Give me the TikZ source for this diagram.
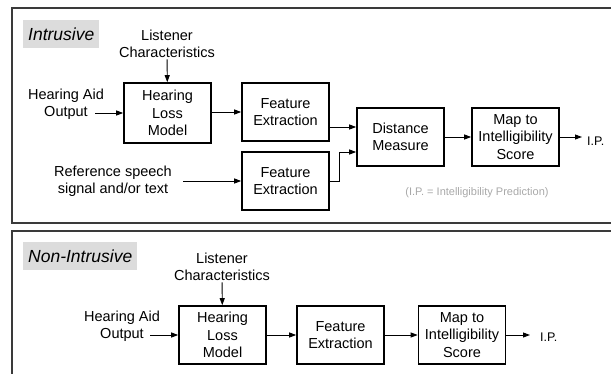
\documentclass[tikz,border=0pt]{standalone}
\usepackage{fontspec}
\setmainfont{Liberation Sans}
\usepackage{xcolor}
\usepackage{tikz}
\usetikzlibrary{arrows.meta,positioning,calc}
\definecolor{IPFrame}{HTML}{3A3A3A}
\definecolor{IPTagGray}{HTML}{DCDCDC}
\definecolor{IPNoteGray}{HTML}{A8A8A8}
\tikzset{
  ipbox/.style={draw=black,line width=1.6pt,fill=white,align=center,
    minimum width=87pt,minimum height=58pt,inner sep=1pt,
    font=\fontsize{14.5}{17.5}\selectfont},
  iptext/.style={align=center,inner sep=1pt,font=\fontsize{14.5}{17.5}\selectfont},
  ipout/.style={anchor=west,inner ysep=1pt,font=\fontsize{12.5}{15}\selectfont},
  iptag/.style={fill=IPTagGray,anchor=west,inner xsep=5pt,minimum height=28pt,
    font=\fontsize{17.5}{20}\selectfont\itshape},
  ipframe/.style={draw=IPFrame,line width=1.3pt},
  iparrow/.style={-{Triangle[length=7pt,width=5pt]},line width=0.9pt,black},
  ipnote/.style={font=\fontsize{11}{13}\selectfont,text=IPNoteGray}
}

\begin{document}
\begin{tikzpicture}[x=1pt,y=-1pt]
  \path[use as bounding box] (0,0) rectangle (611,373);
  \clip (0,0) rectangle (611,373);

  % panel frames
  \draw[ipframe] (12,8) rectangle (625,223);
  \draw[ipframe] (12,231) rectangle (625,390);

  % --- intrusive ---
  \node[iptag] (tagA) at (23,34) {Intrusive};

  \node[iptext] (lcA) at (167,44) {Listener\\Characteristics};
  \node[iptext] (haoA) at (66,104) {Hearing Aid\\Output};
  \coordinate (inA) at (95,113);
  \node[iptext] (refA) at (113,181) {Reference speech\\signal and/or text};
  \coordinate (inB) at (183,181);

  \node[ipbox,minimum height=60pt] (hlmA) at (167.5,113) {Hearing\\Loss\\Model};
  \node[ipbox] (feA) at (285.5,112) {Feature\\Extraction};
  \node[ipbox] (feB) at (285.5,181) {Feature\\Extraction};
  \node[ipbox] (dm) at (400.5,137) {Distance\\Measure};
  \node[ipbox] (mapA) at (515.5,137) {Map to\\Intelligibility\\Score};
  \node[ipout,inner xsep=5pt] (ipA) at (582,141) {I.P.};

  \node[ipnote] (note) at (477,193) {(I.P. = Intelligibility Prediction)};

  \draw[iparrow] (lcA) -- (hlmA);
  \draw[iparrow] (inA) -- (inA -| hlmA.west);
  \draw[iparrow] (hlmA.east |- feA) -- (feA.west);
  \draw[iparrow] (inB) -- (feB.west);
  \draw[iparrow] (feA.east |- 0,127) -- (dm.west |- 0,127);
  \draw[iparrow] (feB.east) -- (339,181) |- (dm.west |- 0,152);
  \draw[iparrow] (dm.east) -- (mapA.west);
  \draw[iparrow] (mapA.east) -- (ipA.west |- mapA.east);

  % --- non-intrusive ---
  \node[iptag] (tagB) at (23,256) {Non-Intrusive};

  \node[iptext] (lcB) at (222,267) {Listener\\Characteristics};
  \node[iptext] (haoB) at (122,326) {Hearing Aid\\Output};
  \coordinate (inC) at (150,335);

  \node[ipbox] (hlmB) at (222.5,335) {Hearing\\Loss\\Model};
  \node[ipbox] (feC) at (340.5,335) {Feature\\Extraction};
  \node[ipbox] (mapB) at (462,335) {Map to\\Intelligibility\\Score};
  \node[ipout,inner xsep=10pt] (ipB) at (530,337) {I.P.};

  \draw[iparrow] (lcB) -- (hlmB);
  \draw[iparrow] (inC) -- (hlmB.west);
  \draw[iparrow] (hlmB) -- (feC);
  \draw[iparrow] (feC) -- (mapB);
  \draw[iparrow] (mapB.east) -- (ipB.west |- mapB.east);
\end{tikzpicture}
\end{document}
